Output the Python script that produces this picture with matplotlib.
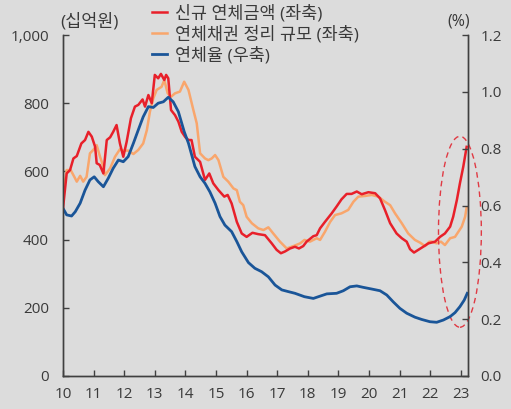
import matplotlib
matplotlib.use("Agg")
import matplotlib.pyplot as plt
from matplotlib.patches import Ellipse

plt.rcParams['font.family'] = ['Open Sans', 'Noto Sans CJK KR', 'DejaVu Sans']

# 신규 연체금액 (십억원, left axis)
new_x = [2010.00, 2010.12, 2010.23, 2010.34, 2010.45, 2010.60, 2010.72, 2010.83, 2010.94, 2011.05,
         2011.10, 2011.20, 2011.32, 2011.43, 2011.54, 2011.64, 2011.75, 2011.86, 2011.97, 2012.08,
         2012.22, 2012.35, 2012.46, 2012.60, 2012.68, 2012.79, 2012.90, 2013.00, 2013.11, 2013.20,
         2013.31, 2013.37, 2013.44, 2013.53, 2013.66, 2013.77, 2013.88, 2014.00, 2014.10, 2014.20,
         2014.31, 2014.48, 2014.64, 2014.78, 2014.91, 2015.08, 2015.27, 2015.38, 2015.51, 2015.68,
         2015.84, 2016.00, 2016.19, 2016.38, 2016.60, 2016.82, 2016.98, 2017.12, 2017.25, 2017.42,
         2017.58, 2017.71, 2017.85, 2017.96, 2018.18, 2018.29, 2018.40, 2018.56, 2018.78, 2018.94,
         2019.10, 2019.27, 2019.43, 2019.60, 2019.76, 2019.98, 2020.20, 2020.36, 2020.52, 2020.69,
         2020.90, 2021.07, 2021.23, 2021.34, 2021.47, 2021.61, 2021.77, 2021.94, 2022.16, 2022.32,
         2022.48, 2022.65, 2022.75, 2022.87, 2022.97, 2023.08, 2023.19]
new_amt = [492, 594, 604, 638, 645, 682, 692, 716, 702, 672,
           624, 619, 594, 692, 700, 716, 736, 682, 643, 687,
           756, 790, 795, 811, 790, 824, 800, 883, 873, 886,
           868, 883, 873, 780, 765, 746, 716, 700, 692, 692,
           643, 628, 575, 594, 565, 545, 526, 531, 506, 452,
           418, 408, 420, 416, 413, 389, 370, 360, 365, 374,
           379, 374, 381, 394, 410, 413, 433, 452, 477, 497,
           518, 534, 534, 541, 533, 539, 536, 521, 487, 448,
           418, 404, 394, 372, 362, 370, 379, 389, 394, 408,
           418, 438, 467, 516, 565, 614, 672]

# 연체채권 정리 규모 (십억원, left axis)
wo_x = [2010.00, 2010.12, 2010.25, 2010.37, 2010.45, 2010.56, 2010.66, 2010.77, 2010.88, 2010.99,
        2011.10, 2011.21, 2011.32, 2011.37, 2011.54, 2011.70, 2011.86, 2011.97, 2012.13, 2012.30,
        2012.46, 2012.62, 2012.74, 2012.84, 2012.95, 2013.06, 2013.22, 2013.31, 2013.42, 2013.53,
        2013.66, 2013.82, 2013.96, 2014.10, 2014.26, 2014.37, 2014.48, 2014.64, 2014.75, 2014.86,
        2014.97, 2015.08, 2015.24, 2015.40, 2015.57, 2015.68, 2015.78, 2015.89, 2016.00, 2016.17,
        2016.38, 2016.55, 2016.71, 2016.87, 2017.09, 2017.31, 2017.53, 2017.75, 2017.89, 2018.07,
        2018.29, 2018.40, 2018.56, 2018.73, 2018.89, 2019.10, 2019.32, 2019.49, 2019.65, 2019.87,
        2020.09, 2020.30, 2020.52, 2020.69, 2020.85, 2021.07, 2021.28, 2021.50, 2021.67, 2021.83,
        2021.97, 2022.05, 2022.21, 2022.35, 2022.48, 2022.65, 2022.81, 2022.92, 2023.03, 2023.14,
        2023.19]
wo_amt = [531, 604, 604, 584, 570, 587, 570, 584, 653, 663,
          677, 643, 614, 589, 609, 643, 665, 661, 661, 651,
          663, 682, 721, 775, 814, 839, 848, 868, 829, 819,
          829, 834, 863, 839, 780, 741, 653, 638, 633, 638,
          648, 633, 584, 570, 550, 545, 511, 501, 467, 448,
          433, 428, 436, 418, 394, 374, 381, 389, 399, 394,
          404, 399, 423, 452, 472, 477, 487, 511, 526, 528,
          531, 526, 511, 501, 477, 448, 418, 399, 391, 381,
          394, 394, 389, 394, 384, 404, 408, 423, 438, 467,
          494]

# 연체율 (%, right axis)
rate_x = [2010.00, 2010.12, 2010.28, 2010.40, 2010.56, 2010.72, 2010.88, 2011.02, 2011.15, 2011.32,
          2011.48, 2011.64, 2011.81, 2011.97, 2012.13, 2012.30, 2012.46, 2012.62, 2012.79, 2012.95,
          2013.11, 2013.28, 2013.44, 2013.60, 2013.77, 2013.96, 2014.10, 2014.31, 2014.48, 2014.64,
          2014.80, 2014.97, 2015.13, 2015.29, 2015.51, 2015.68, 2015.84, 2016.06, 2016.27, 2016.49,
          2016.71, 2016.93, 2017.15, 2017.36, 2017.58, 2017.89, 2018.18, 2018.40, 2018.62, 2018.94,
          2019.16, 2019.38, 2019.60, 2019.81, 2020.09, 2020.36, 2020.58, 2020.79, 2021.01, 2021.23,
          2021.50, 2021.72, 2021.99, 2022.21, 2022.43, 2022.65, 2022.81, 2022.97, 2023.11, 2023.21]
rate = [0.590, 0.567, 0.563, 0.578, 0.608, 0.654, 0.690, 0.701, 0.684, 0.666,
        0.696, 0.731, 0.760, 0.754, 0.772, 0.819, 0.866, 0.912, 0.948, 0.945,
        0.960, 0.965, 0.981, 0.965, 0.930, 0.860, 0.819, 0.737, 0.701, 0.678,
        0.648, 0.608, 0.561, 0.531, 0.508, 0.473, 0.437, 0.399, 0.379, 0.367,
        0.349, 0.320, 0.303, 0.297, 0.291, 0.279, 0.273, 0.281, 0.289, 0.291,
        0.300, 0.314, 0.317, 0.312, 0.306, 0.300, 0.285, 0.261, 0.238, 0.221,
        0.207, 0.199, 0.191, 0.189, 0.197, 0.209, 0.223, 0.244, 0.267, 0.291]

year_ticks = list(range(2010, 2024))
year_labels = [str(y % 100) for y in year_ticks]
labels = ["신규 연체금액 (좌축)", "연체채권 정리 규모 (좌축)", "연체율 (우축)"]

bg = "#dcdcdc"
txt = "#3a3a3a"
red, orange, blue = "#e8202a", "#f9a66c", "#1a5598"

fig = plt.figure(figsize=(5.11, 4.09), dpi=100, facecolor=bg)
ax = fig.add_axes([0.1233, 0.0807, 0.7926, 0.8337], facecolor=bg)
ax2 = ax.twinx()

l1, = ax.plot(new_x, new_amt, color=red, lw=1.8, zorder=3)
l2, = ax.plot(wo_x, wo_amt, color=orange, lw=1.8, zorder=2)
l3, = ax2.plot(rate_x, rate, color=blue, lw=2.0)

ax.set_xlim(2010, 2023.235)
ax.set_ylim(0, 1000)
ax2.set_ylim(0, 1.2)
ax.set_xticks(year_ticks)
ax.set_xticklabels(year_labels)
ax.set_yticks(range(0, 1001, 200))
ax.set_yticklabels(["0", "200", "400", "600", "800", "1,000"])
ax2.set_yticks([0, 0.2, 0.4, 0.6, 0.8, 1.0, 1.2])
ax2.set_yticklabels(["0.0", "0.2", "0.4", "0.6", "0.8", "1.0", "1.2"])

for a in (ax, ax2):
    for s in a.spines.values():
        s.set_color("#404040")
        s.set_linewidth(1.0)
    a.spines["top"].set_visible(False)
    a.tick_params(direction="in", length=4, width=1, colors="#404040",
                  labelcolor=txt, labelsize=11)
ax.tick_params(axis="y", pad=10)
ax.tick_params(axis="x", pad=8)
ax2.tick_params(axis="y", pad=9)

# dashed highlight ellipse around the latest months
ell = Ellipse((2022.97, 423), 1.4, 560, fill=False, ls=(0, (4, 3)),
              ec="#e03a44", lw=1.0, clip_on=False, zorder=5)
ax.add_patch(ell)

fig.text(60 / 511, 1 - 22 / 409, "(십억원)", fontsize=12.5, color=txt, va="center", ha="left")
fig.text(470 / 511, 1 - 22 / 409, "(%)", fontsize=11.5, color=txt, va="center", ha="right")

fig.legend([l1, l2, l3], labels, loc="upper left", bbox_to_anchor=(150 / 511, 1 - 3 / 409),
           frameon=False, fontsize=12.5, handlelength=0.9, handletextpad=0.45,
           labelspacing=0.2, borderaxespad=0.0, borderpad=0.1, labelcolor=txt)

fig.savefig("out.png", dpi=100, facecolor=bg)
